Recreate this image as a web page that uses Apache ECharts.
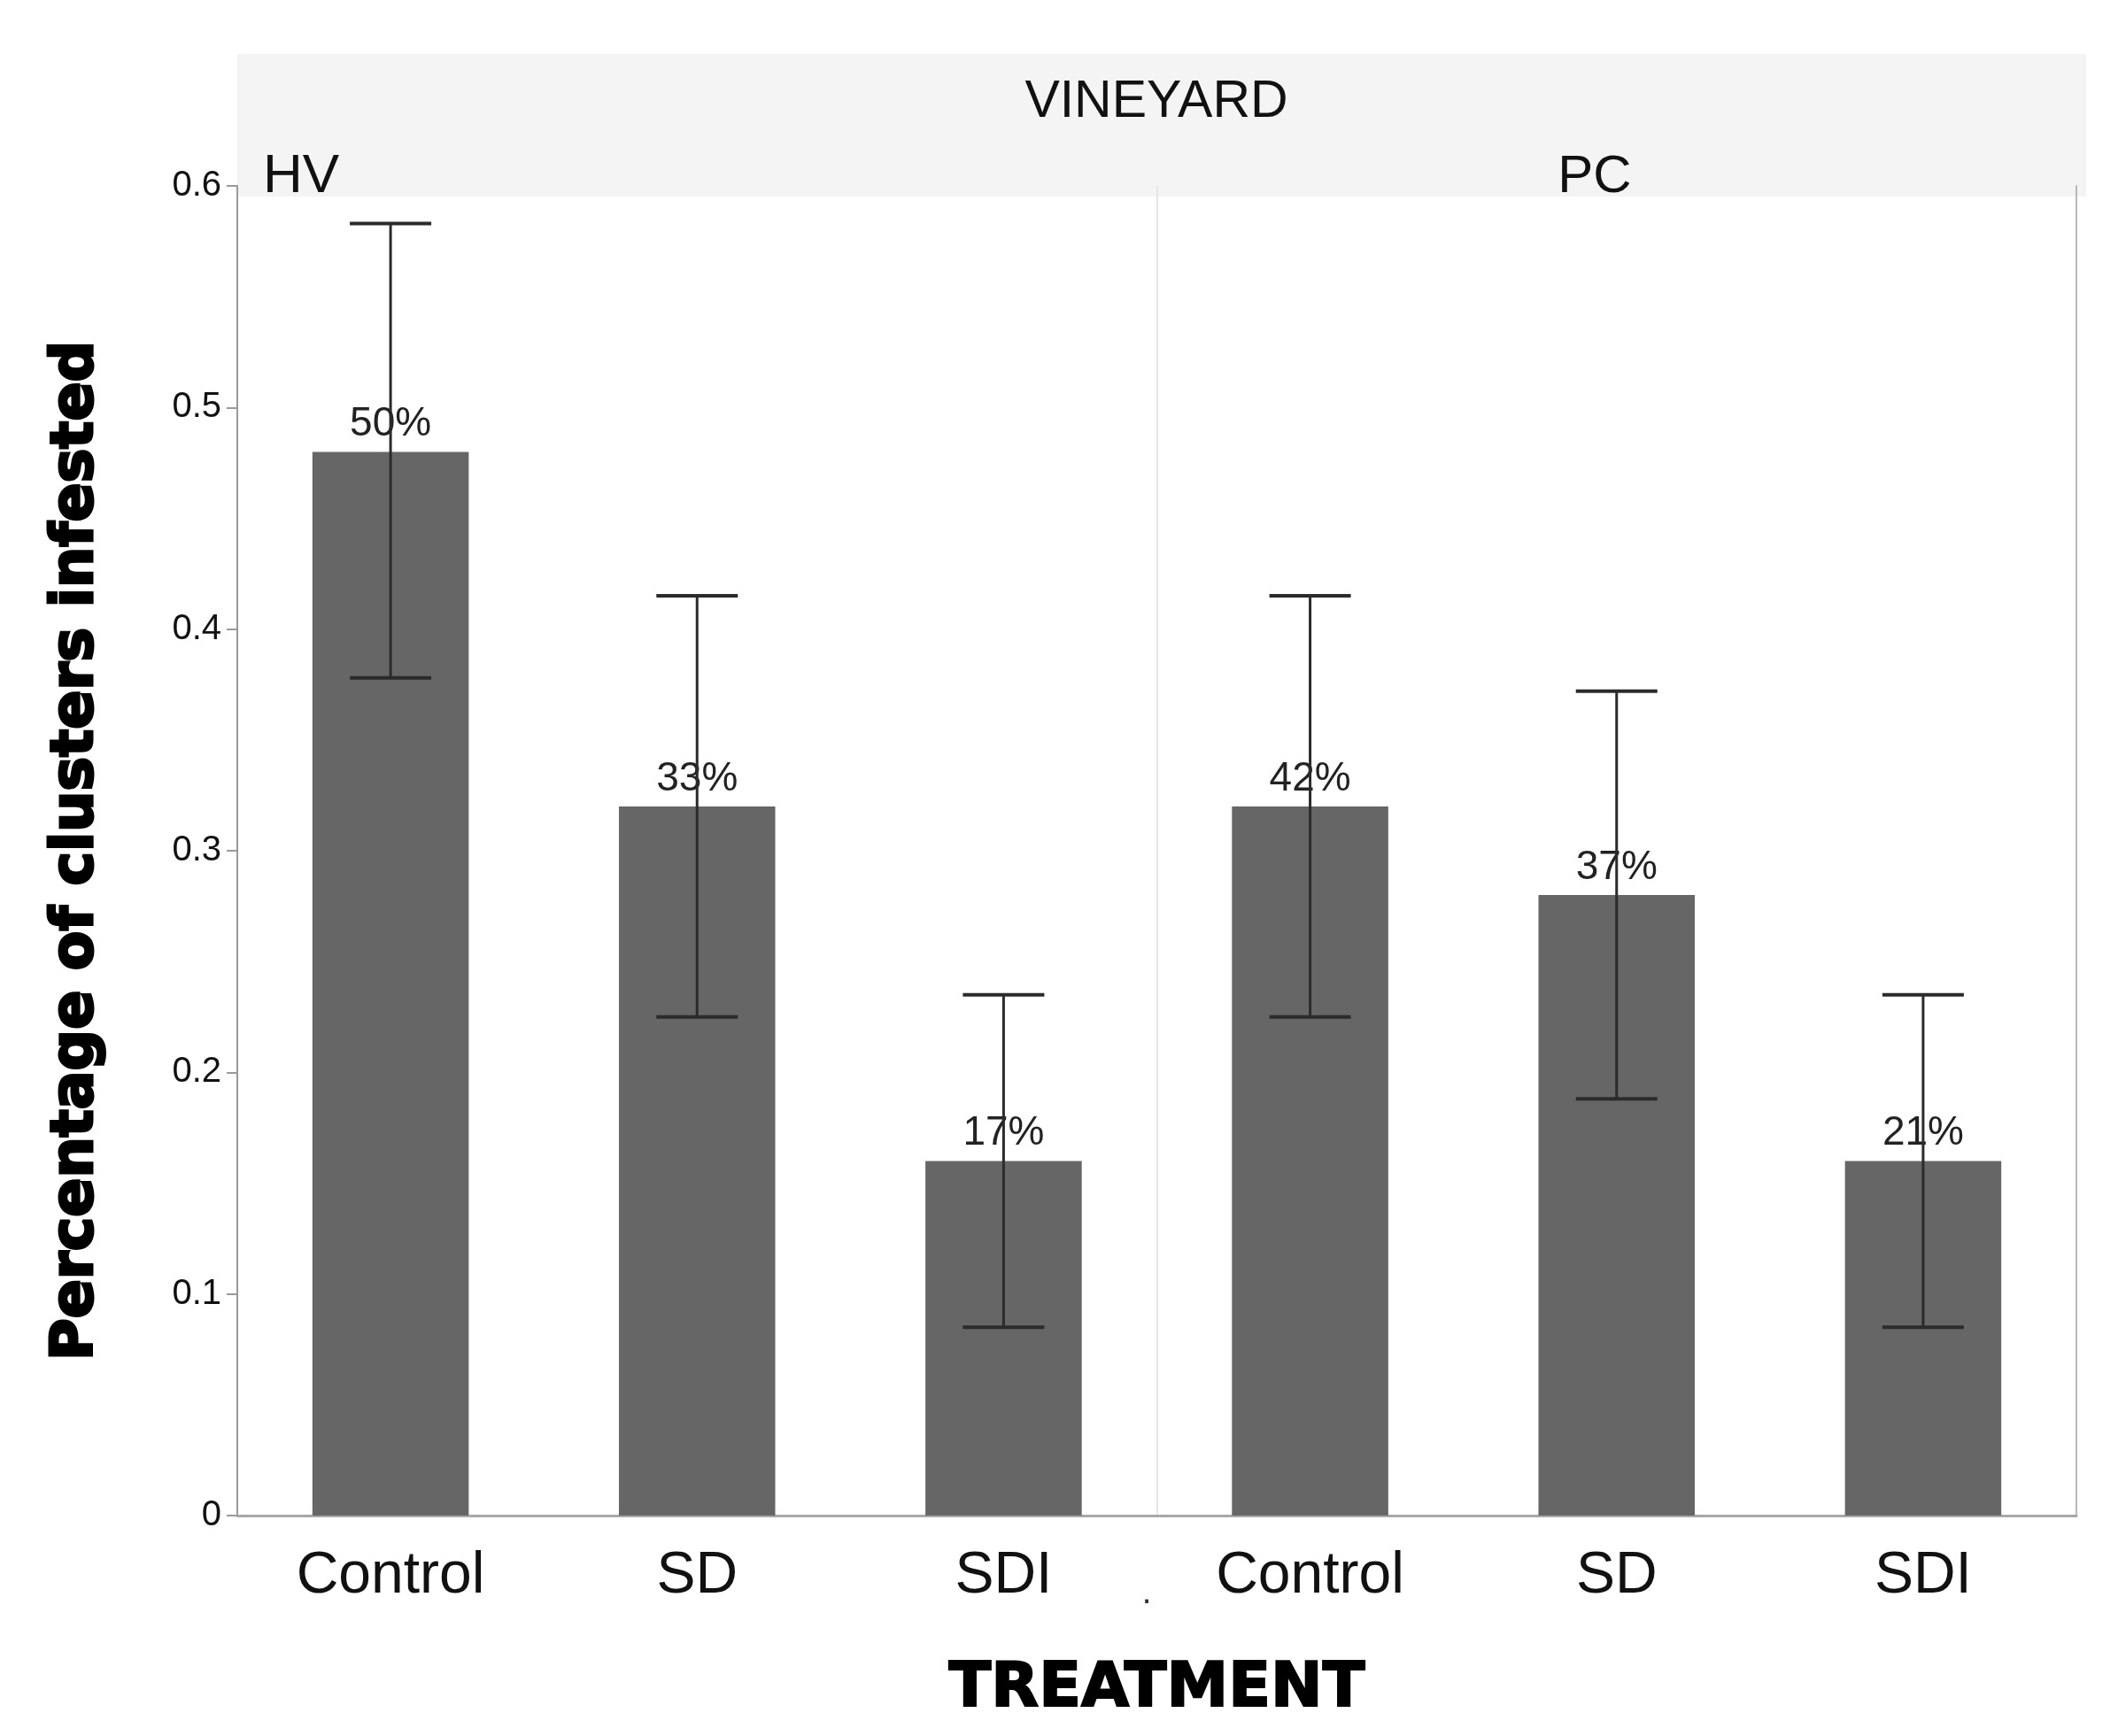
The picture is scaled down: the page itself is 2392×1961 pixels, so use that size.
<!DOCTYPE html>
<html lang="en">
<head>
    <meta charset="UTF-8">
    <title>Percentage of clusters infested</title>
    <style>
        * {
            padding: 0;
            margin: 0;
        }

        .EC {
            width: 2392px;
            height: 1961px;
            background: #fff;
        }
    </style>
    <script src="https://cdn.jsdelivr.net/npm/echarts@6.0.0/dist/echarts.min.js"></script>
</head>
<body>
<div class="EC"></div>
<script>
    // data
    const treatments = ['Control', 'SD', 'SDI', 'Control', 'SD', 'SDI']
    const vineyards = ['HV', 'PC']
    const meanValues = [0.48, 0.32, 0.16, 0.32, 0.28, 0.16]
    const errLow = [0.378, 0.225, 0.085, 0.225, 0.188, 0.085]
    const errHigh = [0.583, 0.415, 0.235, 0.415, 0.372, 0.235]
    const pctLabels = ['50%', '33%', '17%', '42%', '37%', '21%']
    const yTicks = [0, 0.1, 0.2, 0.3, 0.4, 0.5, 0.6]

    const FONT = 'Liberation Sans'
    const HEAVY = 'DejaVu Sans'

    window.onload = () => {
        let EC = echarts.init(document.querySelector('.EC'))

        let errData = errLow.map((lo, i) => [i, lo, errHigh[i]])

        let option = {
            backgroundColor: '#fff',
            animation: false,
            grid: {
                left: 268,
                right: 47,
                top: 210,
                bottom: 249,
                outerBoundsMode: 'none',
                containLabel: false
            },
            xAxis: [
                {
                    type: 'category',
                    data: treatments,
                    axisLine: {lineStyle: {color: '#a8a8a8', width: 3}},
                    axisTick: {show: false},
                    axisLabel: {
                        color: '#111',
                        fontFamily: FONT,
                        fontSize: 66,
                        margin: 36
                    },
                    name: 'TREATMENT',
                    nameLocation: 'middle',
                    nameGap: 162,
                    nameTextStyle: {
                        color: '#000',
                        fontFamily: HEAVY,
                        fontWeight: 900,
                        fontSize: 70,
                        textBorderColor: '#000',
                        textBorderWidth: 2
                    }
                },
                {
                    // second axis only used for the divider between vineyards
                    type: 'category',
                    data: vineyards,
                    position: 'top',
                    axisLine: {show: false},
                    axisTick: {show: false},
                    axisLabel: {show: false},
                    splitLine: {show: true, lineStyle: {color: '#e6e6e6', width: 2}}
                }
            ],
            yAxis: [
                {
                    type: 'value',
                    min: 0,
                    max: 0.6,
                    interval: 0.1,
                    axisLine: {show: true, lineStyle: {color: '#9a9a9a', width: 2}},
                    axisTick: {show: true, length: 12, lineStyle: {color: '#9a9a9a', width: 2}},
                    splitLine: {show: false},
                    axisLabel: {
                        color: '#111',
                        fontFamily: FONT,
                        fontSize: 40,
                        margin: 18,
                        formatter: v => yTicks.indexOf(+v.toFixed(1)) >= 0 ? String(+v.toFixed(1)) : ''
                    },
                    name: 'Percentage of clusters infested',
                    nameLocation: 'middle',
                    nameGap: 148,
                    nameTextStyle: {
                        color: '#000',
                        fontFamily: HEAVY,
                        fontWeight: 900,
                        fontSize: 65,
                        textBorderColor: '#000',
                        textBorderWidth: 3
                    }
                },
                {
                    // right border of the plot
                    type: 'value',
                    min: 0,
                    max: 0.6,
                    interval: 0.1,
                    position: 'right',
                    axisLine: {show: true, lineStyle: {color: '#b8b8b8', width: 2}},
                    axisTick: {show: false},
                    axisLabel: {show: false},
                    splitLine: {show: false}
                }
            ],
            graphic: [
                {
                    type: 'rect',
                    z: -1,
                    shape: {x: 268, y: 61, width: 2088, height: 161},
                    style: {fill: '#f4f4f4'}
                },
                {
                    type: 'text',
                    z: 10,
                    x: 1306, y: 116,
                    style: {
                        text: 'VINEYARD', fill: '#111', font: '59px "Liberation Sans"',
                        align: 'center', verticalAlign: 'middle'
                    }
                },
                {
                    type: 'text',
                    z: 10,
                    x: 297, y: 200,
                    style: {
                        text: vineyards[0], fill: '#111', font: '62px "Liberation Sans"',
                        align: 'left', verticalAlign: 'middle'
                    }
                },
                {
                    type: 'text',
                    z: 10,
                    x: 1801, y: 200,
                    style: {
                        text: vineyards[1], fill: '#111', font: '60px "Liberation Sans"',
                        align: 'center', verticalAlign: 'middle'
                    }
                },
                {
                    type: 'text',
                    z: 10,
                    x: 1295, y: 1800,
                    style: {
                        text: '.', fill: '#333', font: '40px "Liberation Sans"',
                        align: 'center', verticalAlign: 'middle'
                    }
                }
            ],
            series: [
                {
                    name: 'mean',
                    type: 'bar',
                    data: meanValues,
                    barWidth: '51%',
                    itemStyle: {color: '#666666'},
                    label: {
                        show: true,
                        position: 'top',
                        distance: 8,
                        color: '#222',
                        fontFamily: FONT,
                        fontSize: 46,
                        formatter: p => pctLabels[p.dataIndex]
                    },
                    z: 2
                },
                {
                    name: 'error',
                    type: 'custom',
                    data: errData,
                    z: 3,
                    renderItem: (params, api) => {
                        let i = api.value(0)
                        let lo = api.coord([i, api.value(1)])
                        let hi = api.coord([i, api.value(2)])
                        let half = 46
                        let stem = {stroke: '#2b2b2b', lineWidth: 3}
                        let cap = {stroke: '#2b2b2b', lineWidth: 4}
                        return {
                            type: 'group',
                            children: [
                                {type: 'line', shape: {x1: lo[0], y1: lo[1], x2: hi[0], y2: hi[1]}, style: stem},
                                {type: 'line', shape: {x1: hi[0] - half, y1: hi[1], x2: hi[0] + half, y2: hi[1]}, style: cap},
                                {type: 'line', shape: {x1: lo[0] - half, y1: lo[1], x2: lo[0] + half, y2: lo[1]}, style: cap}
                            ]
                        }
                    }
                }
            ]
        }
        EC.setOption(option)
    }
</script>
</body>
</html>
